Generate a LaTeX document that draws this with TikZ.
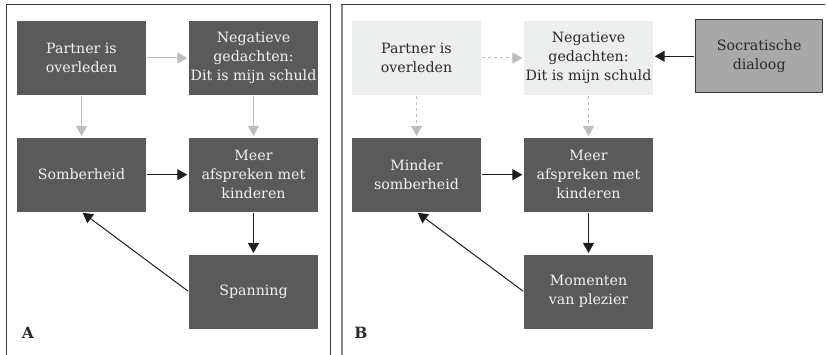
\documentclass[tikz,border=0pt]{standalone}
\usepackage{fontspec}
\setmainfont{DejaVu Serif}
\usetikzlibrary{arrows.meta}
\definecolor{boxdark}{HTML}{5A5A5A}
\definecolor{boxlight}{HTML}{EDEEEE}
\definecolor{boxmid}{HTML}{A8A8A8}
\definecolor{arrgray}{HTML}{BDBDBD}
\definecolor{arrdark}{HTML}{1E1E1E}
\definecolor{textdark}{HTML}{2A2A2A}
\definecolor{textlight}{HTML}{F2F2F2}
\definecolor{framedark}{HTML}{3A3A3A}
\definecolor{framegray}{HTML}{8A8A8A}
\begin{document}
\begin{tikzpicture}[x=1pt,y=-1pt,
  box/.style={minimum width=129pt,minimum height=74pt,inner sep=0pt,align=center,
              font=\fontsize{14.2}{19}\selectfont},
  darkbox/.style={box,fill=boxdark,text=textlight},
  lightbox/.style={box,fill=boxlight,text=textdark},
  midbox/.style={box,fill=boxmid,draw=framedark,line width=1pt,text=textdark,
              minimum width=127pt,minimum height=73pt},
  garr/.style={draw=arrgray,line width=1pt,-{Triangle[length=10pt,width=11pt]},
              shorten >=1.5pt,shorten <=1pt},
  gdash/.style={garr,dash pattern=on 3pt off 3pt},
  darr/.style={draw=arrdark,line width=1pt,-{Triangle[length=10pt,width=11pt]},
              shorten >=1.5pt,shorten <=1pt},
  panellabel/.style={font=\bfseries\fontsize{15.5}{15.5}\selectfont,text=textdark,inner sep=0pt}
]
\useasboundingbox (0,0) rectangle (827,355);

% frames
\draw[framedark,line width=0.9pt] (6,355) -- (6,4) -- (330,4) -- (330,355);
\draw[framegray,line width=1.6pt] (342,355) -- (342,4.4);
\draw[framedark,line width=0.9pt] (341.2,4) -- (825,4);

% panel A
\node[darkbox] (a1) at (81.5,58) {Partner is\\overleden};
\node[darkbox] (a2) at (253.5,58) {Negatieve\\gedachten:\\Dit is mijn schuld};
\node[darkbox] (a3) at (81.5,174.7) {Somberheid};
\node[darkbox] (a4) at (253.5,174.7) {Meer\\afspreken met\\kinderen};
\node[darkbox] (a5) at (253.5,291.7) {Spanning};
\node[panellabel] (la) at (28,333) {A};

\draw[garr] (a1) -- (a2);
\draw[garr] (a1) -- (a3);
\draw[garr] (a2) -- (a4);
\draw[darr] (a3) -- (a4);
\draw[darr] (a4) -- (a5);
\draw[darr] (a5.west) -- (a3.south);

% panel B
\node[lightbox] (b1) at (416.5,58) {Partner is\\overleden};
\node[lightbox] (b2) at (588.5,58) {Negatieve\\gedachten:\\Dit is mijn schuld};
\node[midbox] (b6) at (759.2,56.3) {Socratische\\dialoog};
\node[darkbox] (b3) at (416.5,174.7) {Minder\\somberheid};
\node[darkbox] (b4) at (588.5,174.7) {Meer\\afspreken met\\kinderen};
\node[darkbox] (b5) at (588.5,291.7) {Momenten\\van plezier};
\node[panellabel] (lb) at (361,333) {B};

\draw[gdash] (b1) -- (b2);
\draw[gdash] (b1) -- (b3);
\draw[gdash] (b2) -- (b4);
\draw[darr] (b6.west) -- (b2.east |- b6.west);
\draw[darr] (b3) -- (b4);
\draw[darr] (b4) -- (b5);
\draw[darr] (b5.west) -- (b3.south);
\end{tikzpicture}
\end{document}
